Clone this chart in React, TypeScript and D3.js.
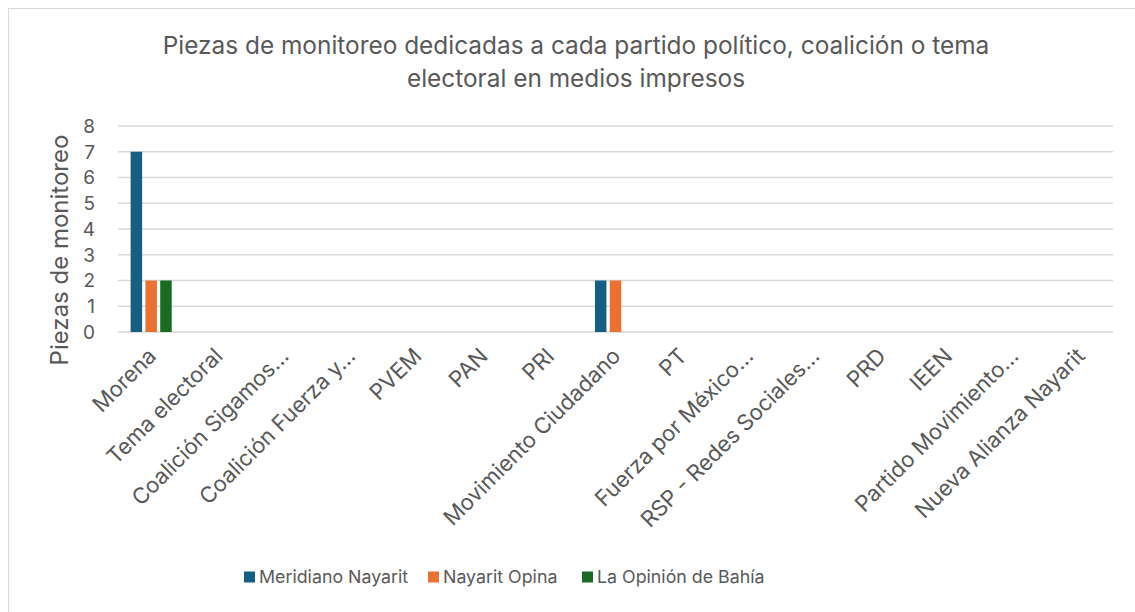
import React, { useEffect, useRef } from 'react';
import * as d3 from 'd3';

const categories = [
  'Morena',
  'Tema electoral',
  'Coalición Sigamos…',
  'Coalición Fuerza y…',
  'PVEM',
  'PAN',
  'PRI',
  'Movimiento Ciudadano',
  'PT',
  'Fuerza por México…',
  'RSP - Redes Sociales…',
  'PRD',
  'IEEN',
  'Partido Movimiento…',
  'Nueva Alianza Nayarit',
];
const seriesNames = ['Meridiano Nayarit', 'Nayarit Opina', 'La Opinión de Bahía'];
const meridiano = [7, 0, 0, 0, 0, 0, 0, 2, 0, 0, 0, 0, 0, 0, 0];
const opina = [2, 0, 0, 0, 0, 0, 0, 2, 0, 0, 0, 0, 0, 0, 0];
const bahia = [2, 0, 0, 0, 0, 0, 0, 0, 0, 0, 0, 0, 0, 0, 0];
const yTicks = [0, 1, 2, 3, 4, 5, 6, 7, 8];
const colors = ['#156082', '#E97132', '#196B24'];

const font = 'Inter, "Open Sans", sans-serif';
const textColor = '#595959';

export default function App() {
  const ref = useRef<SVGSVGElement>(null);

  useEffect(() => {
    const svg = d3.select(ref.current);
    svg.selectAll('*').remove();

    // chart border
    svg
      .append('rect')
      .attr('x', 8.5)
      .attr('y', 8.5)
      .attr('width', 1140)
      .attr('height', 620)
      .attr('fill', '#fff')
      .attr('stroke', '#d9d9d9');

    const left = 118;
    const right = 1113;
    const top = 126;
    const bottom = 332;

    const x = d3.scaleBand().domain(categories).range([left, right]);
    const y = d3.scaleLinear().domain([0, 8]).range([bottom, top]);

    // title
    const title = svg
      .append('text')
      .attr('text-anchor', 'middle')
      .attr('font-family', font)
      .attr('font-size', 24.4)
      .attr('fill', textColor);
    title.append('tspan').attr('x', 576).attr('y', 54).text('Piezas de monitoreo dedicadas a cada partido político, coalición o tema');
    title.append('tspan').attr('x', 576).attr('y', 87).text('electoral en medios impresos');

    // gridlines
    svg
      .append('g')
      .selectAll('line')
      .data(yTicks)
      .join('line')
      .attr('x1', left)
      .attr('x2', right)
      .attr('y1', d => y(d))
      .attr('y2', d => y(d))
      .attr('stroke', '#d9d9d9')
      .attr('stroke-width', 1.5);

    // y tick labels
    svg
      .append('g')
      .selectAll('text')
      .data(yTicks)
      .join('text')
      .attr('x', 95)
      .attr('y', d => y(d))
      .attr('dy', '0.36em')
      .attr('text-anchor', 'end')
      .attr('font-family', font)
      .attr('font-size', 19)
      .attr('fill', textColor)
      .text(d => d);

    // y axis title
    svg
      .append('text')
      .attr('transform', `translate(68, 250) rotate(-90)`)
      .attr('text-anchor', 'middle')
      .attr('font-family', font)
      .attr('font-size', 24)
      .attr('fill', textColor)
      .text('Piezas de monitoreo');

    // bars
    const values = [meridiano, opina, bahia];
    const barW = 11.5;
    const gap = 3.3;
    const groupW = barW * 3 + gap * 2;
    const offset = (x.bandwidth() - groupW) / 2;

    values.forEach((vals, s) => {
      svg
        .append('g')
        .selectAll('rect')
        .data(vals.map((v, i) => ({ cat: categories[i], v })).filter(d => d.v > 0))
        .join('rect')
        .attr('x', d => x(d.cat)! + offset + s * (barW + gap))
        .attr('y', d => y(d.v))
        .attr('width', barW)
        .attr('height', d => y(0) - y(d.v))
        .attr('fill', colors[s]);
    });

    // x labels
    svg
      .append('g')
      .selectAll('text')
      .data(categories)
      .join('text')
      .attr('transform', d => `translate(${x(d)! + x.bandwidth() / 2 + 1}, 352) rotate(-45)`)
      .attr('text-anchor', 'end')
      .attr('dy', '0.35em')
      .attr('font-family', font)
      .attr('font-size', 22)
      .attr('fill', textColor)
      .text(d => d);

    // legend
    const legendX = [244, 428, 582];
    const lg = svg
      .append('g')
      .selectAll('g')
      .data(seriesNames)
      .join('g')
      .attr('transform', (d, i) => `translate(${legendX[i]}, 577)`);
    lg.append('rect')
      .attr('x', 0)
      .attr('y', -5.5)
      .attr('width', 11)
      .attr('height', 11)
      .attr('fill', (d, i) => colors[i]);
    lg.append('text')
      .attr('x', 15)
      .attr('dy', '0.36em')
      .attr('font-family', font)
      .attr('font-size', 17.8)
      .attr('fill', textColor)
      .text(d => d);
  }, []);

  return (
    <svg
      ref={ref}
      width={1135}
      height={612}
      style={{ position: 'absolute', left: 0, top: 0 }}
    />
  );
}
